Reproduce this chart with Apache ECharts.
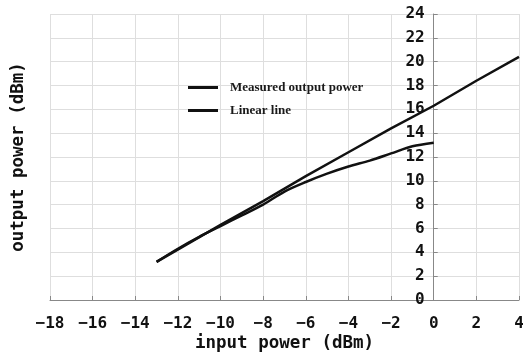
<!DOCTYPE html>
<html>
<head>
<meta charset="utf-8">
<script src="https://cdn.jsdelivr.net/npm/echarts@6/dist/echarts.min.js"></script>
<style>
  html, body { margin: 0; padding: 0; background: #fff; }
  #chart { width: 523px; height: 353px; }
</style>
</head>
<body>
<div id="chart"></div>
<script>
// measured output vs input power (dBm)
const measuredIn = [-13, -12, -11, -10, -9, -8, -7, -6, -5, -4, -3, -2, -1, 0]
const measuredOut = [3.2, 4.3, 5.3, 6.2, 7.1, 8.0, 9.1, 9.9, 10.6, 11.2, 11.7, 12.3, 12.9, 13.2]

// linear extrapolation of small-signal gain
const linearIn = [-13, -10, -8, -6, -4, -2, 0, 2, 4]
const linearOut = [3.2, 6.3, 8.3, 10.4, 12.4, 14.4, 16.3, 18.4, 20.4]

const seriesNames = ['Measured output power', 'Linear line']

const X_MIN = -18
const X_MAX = 4

const zip = (xs, ys) => xs.map((x, i) => [x, ys[i]])

const gridLeft = 50
const gridRight = 4
const width = 523

// y axis sits on x = 0, so push it right from the grid's left edge
const plotWidth = width - gridLeft - gridRight
const zeroOffset = -plotWidth * (0 - X_MIN) / (X_MAX - X_MIN)

const chart = echarts.init(document.getElementById('chart'))

const labelFont = {
  fontFamily: '"DejaVu Sans Mono", monospace',
  fontWeight: 'bold',
  fontSize: 16,
  color: '#111'
}

const nameFont = {
  ...labelFont,
  fontSize: 17.5
}

chart.setOption({
  animation: false,
  grid: {
    left: gridLeft,
    right: gridRight,
    top: 14,
    bottom: 53,
    containLabel: false,
    outerBoundsMode: 'none'
  },
  legend: {
    orient: 'vertical',
    left: 188,
    top: 81,
    padding: 0,
    itemWidth: 30,
    itemHeight: 3,
    itemGap: 10,
    icon: 'rect',
    data: seriesNames,
    textStyle: {
      fontFamily: '"Liberation Serif", "DejaVu Serif", serif',
      fontWeight: 'bold',
      fontSize: 13,
      color: '#1a1a1a',
      padding: [0, 0, 0, 7]
    }
  },
  xAxis: {
    type: 'value',
    min: X_MIN,
    max: X_MAX,
    interval: 2,
    name: 'input power (dBm)',
    nameLocation: 'middle',
    nameGap: 34,
    nameMoveOverlap: false,
    nameTextStyle: nameFont,
    axisLine: { lineStyle: { color: '#888', width: 1 } },
    axisTick: { inside: true, length: 4, lineStyle: { color: '#888' } },
    axisLabel: {
      ...labelFont,
      margin: 16,
      formatter: v => String(v).replace('-', '\u2212')
    },
    splitLine: { show: true, lineStyle: { color: '#dedede', width: 1 } }
  },
  yAxis: [
    {
      type: 'value',
      min: 0,
      max: 24,
      interval: 2,
      position: 'left',
      offset: zeroOffset,
      axisLine: { show: true, onZero: false, lineStyle: { color: '#888', width: 1 } },
      axisTick: { show: true, inside: true, length: 4, lineStyle: { color: '#888' } },
      axisLabel: { ...labelFont, margin: 9 },
      splitLine: { show: true, lineStyle: { color: '#dedede', width: 1 } }
    },
    {
      type: 'value',
      position: 'left',
      min: 0,
      max: 24,
      name: 'output power (dBm)',
      nameLocation: 'middle',
      nameGap: 23,
      nameMoveOverlap: false,
      nameTextStyle: nameFont,
      axisLine: { show: false, onZero: false },
      axisTick: { show: false },
      axisLabel: { show: false },
      splitLine: { show: false }
    }
  ],
  series: [
    {
      name: seriesNames[0],
      type: 'line',
      data: zip(measuredIn, measuredOut),
      smooth: 0.3,
      symbol: 'none',
      lineStyle: { color: '#111', width: 2.5 },
      itemStyle: { color: '#111' }
    },
    {
      name: seriesNames[1],
      type: 'line',
      data: zip(linearIn, linearOut),
      symbol: 'none',
      lineStyle: { color: '#111', width: 2.5 },
      itemStyle: { color: '#111' }
    }
  ]
})
</script>
</body>
</html>
